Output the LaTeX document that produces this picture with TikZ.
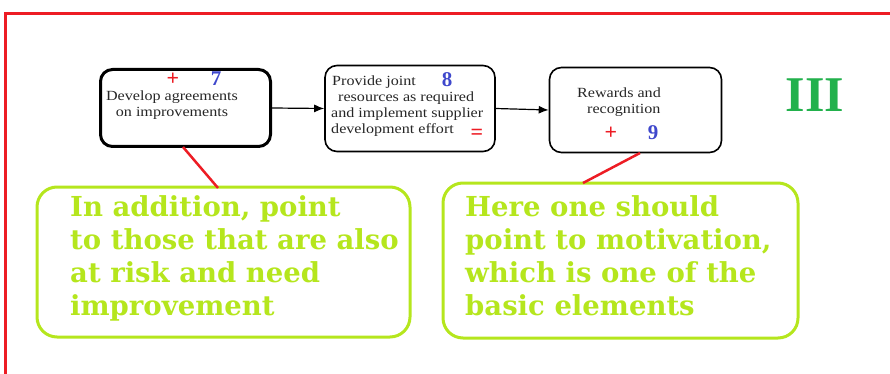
\documentclass[tikz,border=0pt]{standalone}
\usepackage{fontspec}
\usetikzlibrary{arrows.meta}
\setmainfont{Liberation Serif}
\newfontfamily\boxfont{Liberation Serif}[FakeStretch=1.15]
\newfontfamily\callfont{DejaVu Serif}
\definecolor{frred}{HTML}{ED1C24}
\definecolor{numblue}{HTML}{3F48CC}
\definecolor{lime}{HTML}{B5E61D}
\definecolor{romgreen}{HTML}{22B14C}
\tikzset{
  stepbox/.style={draw=black, rounded corners=12pt, line width=1.6pt, inner sep=0pt},
  callbox/.style={draw=lime, rounded corners=20pt, line width=3pt, inner sep=0pt},
  boxtxt/.style={font=\boxfont\fontsize{14}{16}\selectfont, inner sep=0pt, text=black!85},
  calltxt/.style={font=\callfont\bfseries\fontsize{27.5}{33}\selectfont, text=lime, align=left, inner sep=0pt, anchor=north west},
  plus/.style={font=\fontsize{22}{22}\selectfont\bfseries, text=frred, inner sep=0pt},
  num/.style={font=\fontsize{21}{21}\selectfont\bfseries, text=numblue, inner sep=0pt},
  flow/.style={-{Latex[length=10pt,width=8pt]}, line width=1.2pt},
  pointer/.style={draw=frred, line width=2.5pt}
}
\begin{document}
\begin{tikzpicture}[x=1pt,y=-1pt]
\useasboundingbox (0,0) rectangle (890,374);
% red frame
\begin{scope}
\clip (0,0) rectangle (890,374);
\draw[frred, line width=3pt] (5.5,380) -- (5.5,14) -- (900,14);
\end{scope}
% step boxes
\node[stepbox, line width=3pt, minimum width=170pt, minimum height=77pt] (b1) at (185.5,108) {};
\node[stepbox, minimum width=170pt, minimum height=86pt] (b2) at (410,108.5) {};
\node[stepbox, minimum width=172pt, minimum height=85pt] (b3) at (635.5,110) {};
% box 1 text
\node[boxtxt, align=center] (b1t) at (172,105) {Develop agreements\\on improvements};
\node[plus] (b1p) at (173,79) {+};
\node[num] (b1n) at (216,79) {7};
% box 2 text
\node[boxtxt, anchor=west] (b2a) at (332,82) {Provide joint};
\node[boxtxt, anchor=west] (b2b) at (338,98.5) {resources as required};
\node[boxtxt, anchor=west] (b2c) at (331,114) {and implement supplier};
\node[boxtxt, anchor=west] (b2d) at (331,130) {development effort};
\node[num] (b2n) at (447,79.5) {8};
\node[plus] (b2e) at (477,134) {=};
% box 3 text
\node[boxtxt, anchor=west] (b3a) at (577,93) {Rewards and};
\node[boxtxt, anchor=west] (b3b) at (587,110) {recognition};
\node[plus] (b3p) at (611,133) {+};
\node[num] (b3n) at (653,133) {9};
% roman numeral
\node[font=\fontsize{50}{50}\selectfont\bfseries, text=romgreen, inner sep=0pt] (rom) at (815,95) {III};
% flow arrows
\draw[flow] (b1.east) -- (b2.west);
\draw[flow] (b2.east) -- (b3.west);
% callouts
\node[callbox, minimum width=373pt, minimum height=150pt] (c1) at (223.5,262) {};
\node[callbox, minimum width=355pt, minimum height=155pt] (c2) at (620.5,260.5) {};
\node[calltxt] (c1t) at (70,195) {In addition, point\\to those that are also\\at risk and need\\improvement};
\node[calltxt] (c2t) at (465,195) {Here one should\\point to motivation,\\which is one of the\\basic elements};
% pointers
\coordinate (p1a) at (183,147);
\coordinate (p1b) at (218,188);
\coordinate (p2a) at (640,153);
\coordinate (p2b) at (583,183);
\draw[pointer] (p1a) -- (p1b);
\draw[pointer] (p2a) -- (p2b);
\end{tikzpicture}
\end{document}
